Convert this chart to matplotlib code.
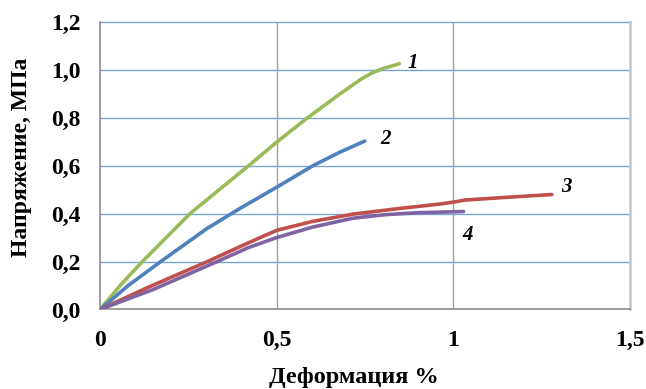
import matplotlib
matplotlib.use("Agg")
import matplotlib.pyplot as plt

# Stress-strain curves for four samples (strain %, stress MPa)
strain_1 = [0.0, 0.06, 0.12, 0.255, 0.34, 0.425, 0.5, 0.585, 0.677, 0.74, 0.77, 0.80, 0.848]
stress_1 = [0.0, 0.105, 0.20, 0.40, 0.503, 0.605, 0.698, 0.797, 0.897, 0.962, 0.987, 1.005, 1.026]

strain_2 = [0.0, 0.08, 0.172, 0.302, 0.4, 0.5, 0.603, 0.677, 0.75]
stress_2 = [0.0, 0.10, 0.20, 0.337, 0.425, 0.51, 0.60, 0.655, 0.703]

strain_3 = [0.0, 0.14, 0.304, 0.42, 0.5, 0.6, 0.716, 0.85, 0.962, 1.0, 1.035, 1.15, 1.28]
stress_3 = [0.0, 0.095, 0.20, 0.278, 0.330, 0.367, 0.398, 0.422, 0.440, 0.448, 0.457, 0.468, 0.480]

strain_4 = [0.0, 0.15, 0.332, 0.42, 0.5, 0.6, 0.716, 0.81, 0.9, 1.03]
stress_4 = [0.0, 0.083, 0.20, 0.258, 0.300, 0.343, 0.381, 0.396, 0.404, 0.409]

curve_names = ["1", "2", "3", "4"]
label_pos = [(0.885, 1.03), (0.808, 0.712), (1.32, 0.51), (1.04, 0.31)]

x_ticks = [0, 0.5, 1.0, 1.5]
x_tick_labels = ["0", "0,5", "1", "1,5"]
y_ticks = [0.0, 0.2, 0.4, 0.6, 0.8, 1.0, 1.2]
y_tick_labels = ["0,0", "0,2", "0,4", "0,6", "0,8", "1,0", "1,2"]

colors = ["#9BBB59", "#4F81BD", "#C0504D", "#8064A2"]

plt.rcParams["font.family"] = ["Liberation Serif", "DejaVu Serif"]

fig = plt.figure(figsize=(6.46, 3.89), dpi=100)
ax = fig.add_axes([0.1548, 0.2044, 0.9745 - 0.1548, 0.9434 - 0.2044])

ax.set_xlim(0, 1.5)
ax.set_ylim(0, 1.2)

# grid: blue horizontal lines, grey vertical lines
for y in y_ticks[1:]:
    ax.axhline(y, color="#7DA4D8", lw=1.0, zorder=1, clip_on=False)
for x in x_ticks[1:-1]:
    ax.axvline(x, color="#A0A0A0", lw=1.0, zorder=1)

ax.spines["top"].set_visible(False)
ax.spines["left"].set_color("#8C8C8C")
ax.spines["bottom"].set_color("#8C8C8C")
ax.spines["right"].set_color("#C4C4C4")
ax.spines["right"].set_linewidth(1.8)
for s in ("left", "bottom"):
    ax.spines[s].set_linewidth(1.2)

series = [(strain_1, stress_1), (strain_2, stress_2), (strain_3, stress_3), (strain_4, stress_4)]
for (xs, ys), c in zip(series, colors):
    ax.plot(xs, ys, color=c, lw=2.6, solid_capstyle="round", solid_joinstyle="round", zorder=3)

for name, (lx, ly) in zip(curve_names, label_pos):
    ax.text(lx, ly, name, fontsize=15, fontweight="bold", fontstyle="italic",
            ha="center", va="center", zorder=4)

ax.set_xticks(x_ticks)
ax.set_xticklabels(x_tick_labels)
ax.set_yticks(y_ticks)
ax.set_yticklabels(y_tick_labels)
ax.tick_params(axis="both", length=0, labelsize=17)
ax.tick_params(axis="x", pad=15)
ax.tick_params(axis="y", pad=14)
for t in ax.get_xticklabels() + ax.get_yticklabels():
    t.set_fontweight("bold")

fig.text(354 / 646, 1 - 377 / 389, "Деформация %", fontsize=17.5, fontweight="bold",
         ha="center", va="center")
fig.text(22 / 646, 1 - 157 / 389, "Напряжение, МПа", fontsize=17, fontweight="bold",
         ha="center", va="center", rotation=90)

fig.savefig("out.png", dpi=100)
